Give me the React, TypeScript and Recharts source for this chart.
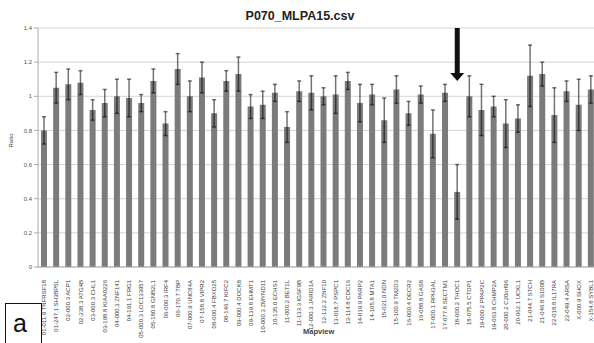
import { BarChart, Bar, XAxis, YAxis, CartesianGrid, ErrorBar, ReferenceLine } from 'recharts'

const probes = [
  '01-011.9 TNFRSF18', '01-247.1 SH3BP5L', '02-000.3 ACP1', '02-238.3 ATG4B',
  '03-000.3 CHL1', '03-198.8 KIAA0226', '04-000.3 ZNF141', '04-191.1 FRG1',
  '05-000.3 LOC133957', '05-180.8 GNB2L1', '06-000.3 IRF4', '06-170.7 TBP',
  '07-000.9 UNC84A', '07-158.8 VIPR2', '08-000.4 FBXO25', '08-146.7 KIFC2',
  '09-000.4 DOCK8', '09-139.8 EHMT1', '10-000.3 ZMYND11', '10-135.0 ECHS1',
  '11-000.2 BET1L', '11-133.3 IGSF9B', '12-000.3 JARID1A', '12-132.2 ZNF10',
  '13-018.7 PSPC1', '13-114.8 CDC16', '14-019.9 PARP2', '14-105.8 MTA1',
  '15-021.0 NDN', '15-100.9 TM2D3', '16-000.4 DECR2', '16-088.8 GAS8',
  '17-000.1 RPH3AL', '17-077.8 SECTM1', '18-000.2 THOC1', '18-075.5 CTDP1',
  '19-000.2 PPAP2C', '19-063.8 CHMP2A', '20-000.2 C20orf96', '20-062.1 UCKL1',
  '21-044.7 STCH', '21-046.8 S100B', '22-018.8 IL17RA', '22-049.4 ARSA',
  'X-000.9 SHOX', 'X-154.8 SYBL1',
]

const ratios = [
  0.8, 1.05, 1.07, 1.08, 0.92, 0.96, 1.0, 0.99, 0.96, 1.09,
  0.84, 1.16, 1.0, 1.11, 0.9, 1.09, 1.13, 0.94, 0.95, 1.02,
  0.82, 1.03, 1.02, 1.0, 1.01, 1.09, 0.96, 1.01, 0.86, 1.04,
  0.9, 1.01, 0.78, 1.02, 0.44, 1.0, 0.92, 0.94, 0.84, 0.87,
  1.12, 1.13, 0.89, 1.03, 0.95, 1.04,
]

const errors = [
  0.08, 0.09, 0.09, 0.07, 0.06, 0.08, 0.1, 0.11, 0.05, 0.07,
  0.07, 0.09, 0.09, 0.09, 0.08, 0.06, 0.1, 0.07, 0.08, 0.05,
  0.09, 0.06, 0.1, 0.05, 0.11, 0.05, 0.11, 0.06, 0.13, 0.08,
  0.07, 0.05, 0.14, 0.05, 0.16, 0.12, 0.15, 0.06, 0.14, 0.08,
  0.18, 0.07, 0.16, 0.06, 0.15, 0.08,
]

const yTicks = [0, 0.2, 0.4, 0.6, 0.8, 1, 1.2, 1.4]

// arrow marking the deleted probe
const arrowProbe = '18-000.2 THOC1'
const arrowTop = 1.4
const arrowTip = 1.09

const data = probes.map((name, i) => ({ name, ratio: ratios[i], err: errors[i] }))

const font = '"Liberation Sans", Arial, sans-serif'

function ProbeTick({ x, y, payload }: any) {
  return (
    <g transform={`translate(${x},${y})`}>
      <text
        transform="rotate(-90)"
        x={-5}
        y={0}
        dy={2}
        textAnchor="end"
        fontSize={6}
        fill="#3a3a3a"
        fontFamily={font}
      >
        {payload.value}
      </text>
    </g>
  )
}

function Arrow({ x1, y1, y2 }: any) {
  return (
    <g>
      <rect x={x1 - 2.5} y={y1} width={5} height={y2 - y1 - 6} fill="#111" />
      <polygon points={`${x1 - 7},${y2 - 8} ${x1 + 7},${y2 - 8} ${x1},${y2}`} fill="#111" />
    </g>
  )
}

export default function App() {
  return (
    <div
      style={{
        position: 'fixed',
        left: 0,
        top: 0,
        width: 594,
        height: 343,
        overflow: 'hidden',
        background: '#fff',
        fontFamily: font,
      }}
    >
      <div
        style={{
          position: 'absolute',
          top: 9,
          left: 0,
          width: 600,
          textAlign: 'center',
          fontSize: 12.5,
          fontWeight: 'bold',
          color: '#222',
        }}
      >
        P070_MLPA15.csv
      </div>
      <BarChart
        width={597}
        height={343}
        data={data}
        margin={{ top: 28, right: 0, left: 0, bottom: 0 }}
      >
        <CartesianGrid stroke="#d4d4d4" vertical={false} />
        <XAxis
          dataKey="name"
          interval={0}
          height={76}
          tick={<ProbeTick />}
          tickLine={false}
          axisLine={{ stroke: '#aaa' }}
        />
        <YAxis
          width={38}
          domain={[0, 1.4]}
          ticks={yTicks}
          tick={{ fontSize: 6, fill: '#555', fontFamily: font }}
          tickSize={4}
          tickLine={{ stroke: '#aaa' }}
          axisLine={{ stroke: '#aaa' }}
          label={{
            value: 'Ratio',
            angle: -90,
            position: 'insideLeft',
            offset: 11,
            fontSize: 6,
            fill: '#444',
            fontFamily: font,
          }}
        />
        <Bar dataKey="ratio" fill="#7b7b7b" barSize={6} isAnimationActive={false}>
          <ErrorBar
            dataKey="err"
            direction="y"
            width={2}
            stroke="#000"
            strokeOpacity={0.55}
            strokeWidth={1.5}
          />
        </Bar>
        <ReferenceLine
          segment={[
            { x: arrowProbe, y: arrowTop },
            { x: arrowProbe, y: arrowTip },
          ]}
          shape={(p: any) => <Arrow {...p} />}
        />
      </BarChart>
      <div
        style={{
          position: 'absolute',
          left: 303,
          top: 327,
          fontSize: 7.5,
          fontWeight: 'bold',
          color: '#444',
        }}
      >
        Mapview
      </div>
      <div
        style={{
          position: 'absolute',
          left: 5,
          top: 303,
          width: 37,
          height: 42,
          border: '1.5px solid #111',
          boxSizing: 'border-box',
          fontSize: 25,
          lineHeight: '38px',
          paddingLeft: 7,
          color: '#111',
          background: '#fff',
        }}
      >
        a
      </div>
    </div>
  )
}
